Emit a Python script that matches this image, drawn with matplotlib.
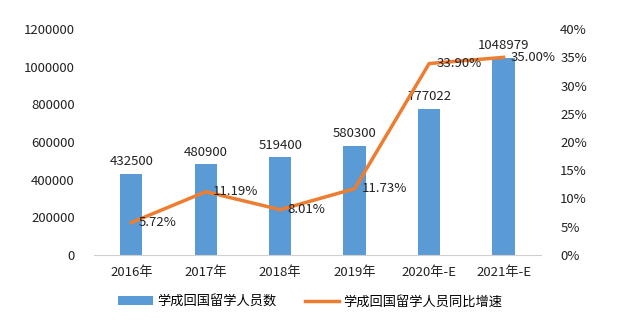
import matplotlib
matplotlib.use("Agg")
import matplotlib.pyplot as plt
from matplotlib.ticker import FuncFormatter

plt.rcParams['font.family'] = ['Noto Sans CJK SC', 'DejaVu Sans']

years = ['2016年', '2017年', '2018年', '2019年', '2020年-E', '2021年-E']
returnees = [432500, 480900, 519400, 580300, 777022, 1048979]
growth = [5.72, 11.19, 8.01, 11.73, 33.90, 35.00]

bar_color = '#5B9BD5'
line_color = '#ED7D31'
fs = 9.5

fig = plt.figure(figsize=(6.4, 3.31), dpi=100)
ax = fig.add_axes([0.147, 0.23, 0.698, 0.682])
x = list(range(len(years)))

bars = ax.bar(x, returnees, width=0.3, color=bar_color, label='学成回国留学人员数', zorder=2)
for xi, v in zip(x, returnees):
    ax.text(xi, v + 30000, str(v), ha='center', va='bottom', fontsize=fs, color='#222222')

ax.set_xlim(-0.5, 5.5)
ax.set_ylim(0, 1200000)
ax.set_yticks(range(0, 1200001, 200000))
ax.yaxis.set_major_formatter(FuncFormatter(lambda v, p: f'{v:.0f}'))
ax.set_xticks(x)
ax.set_xticklabels(years)
ax.tick_params(axis='both', length=0, labelsize=fs, colors='#222222')
ax.tick_params(axis='x', pad=8)
ax.tick_params(axis='y', pad=14)
for s in ['top', 'right', 'left']:
    ax.spines[s].set_visible(False)
ax.spines['bottom'].set_color('#d0d0d0')

ax2 = ax.twinx()
line, = ax2.plot(x, growth, color=line_color, linewidth=2.5, label='学成回国留学人员同比增速', zorder=3)
for xi, g in zip(x, growth):
    ax2.text(xi + 0.1, g, f'{g:.2f}%', ha='left', va='center', fontsize=fs, color='#222222')
ax2.set_ylim(0, 40)
ax2.set_yticks(range(0, 41, 5))
ax2.yaxis.set_major_formatter(FuncFormatter(lambda v, p: f'{v:.0f}%'))
ax2.tick_params(axis='y', length=0, labelsize=fs, colors='#222222', pad=14)
for s in ['top', 'right', 'left', 'bottom']:
    ax2.spines[s].set_visible(False)

fig.legend([bars, line], ['学成回国留学人员数', '学成回国留学人员同比增速'],
           loc='center', bbox_to_anchor=(0.485, 0.088), ncol=2, frameon=False,
           fontsize=fs, handlelength=2.6, handletextpad=0.3, columnspacing=2.2)

fig.savefig('out.png', dpi=100, facecolor='white')
